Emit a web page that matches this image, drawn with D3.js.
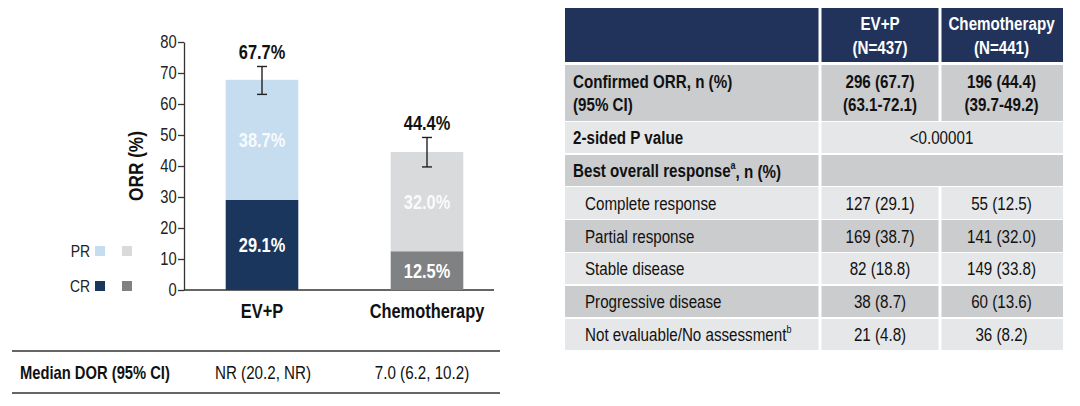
<!DOCTYPE html>
<html>
<head>
<meta charset="utf-8">
<script src="https://cdn.jsdelivr.net/npm/d3@7"></script>
<style>
  body { margin: 0; background: #fff; }
  svg { display: block; }
  text { font-family: "Liberation Sans", Arial, sans-serif; }
</style>
</head>
<body>
<div id="chart-area"></div>
<script>
// ---- data ----
const groups = ["EV+P", "Chemotherapy"];
const crValues = [29.1, 12.5];
const prValues = [38.7, 32.0];
const orrValues = [67.7, 44.4];
const ciLow = [63.1, 39.7];
const ciHigh = [72.1, 49.2];
const yTicks = [0, 10, 20, 30, 40, 50, 60, 70, 80];
const legendLabels = ["PR", "CR"];
const dorLabel = "Median DOR (95% CI)";
const dorValues = ["NR (20.2, NR)", "7.0 (6.2, 10.2)"];

const tableHeader = [["EV+P", "(N=437)"], ["Chemotherapy", "(N=441)"]];
const rowLabels = ["Confirmed ORR, n (%)|(95% CI)", "2-sided P value", "Best overall response", "Complete response",
  "Partial response", "Stable disease", "Progressive disease", "Not evaluable/No assessment"];
const evpCol = ["296 (67.7)|(63.1-72.1)", "<0.00001", "", "127 (29.1)", "169 (38.7)", "82 (18.8)", "38 (8.7)", "21 (4.8)"];
const chemoCol = ["196 (44.4)|(39.7-49.2)", "", "", "55 (12.5)", "141 (32.0)", "149 (33.8)", "60 (13.6)", "36 (8.2)"];

const width = 1080, height = 406;
const crColors = ["#1b365d", "#808182"];
const prColors = ["#c6dcef", "#d8dadb"];
const K = 0.82; // horizontal squeeze, the slide uses a narrow font

const svg = d3.select("#chart-area").append("svg")
  .attr("width", width).attr("height", height);

// squeeze text horizontally around its anchor point
function narrow(sel) {
  sel.each(function() {
    const t = d3.select(this);
    const tx = +t.attr("x") || 0, ty = +t.attr("y") || 0;
    t.attr("x", 0).attr("y", 0)
      .attr("transform", `translate(${tx},${ty}) scale(${K},1)`);
  });
}

// ---- bar chart ----
const x = d3.scaleBand().domain(groups).range([179.5, 509.5])
  .paddingInner(0.56).paddingOuter(0.28);
const y = d3.scaleLinear().domain([0, 80]).range([290, 42]);
const axisX = 184;

svg.append("g")
  .attr("transform", `translate(${axisX},0)`)
  .call(d3.axisLeft(y).tickValues(yTicks).tickSize(6).tickSizeOuter(0).tickPadding(3))
  .call(g => g.selectAll("line, path").attr("stroke", "#333").attr("stroke-width", 1.3))
  .call(g => g.selectAll("text").attr("font-size", 18).attr("fill", "#222")
    .style("font-family", "'Liberation Sans', Arial, sans-serif")
    .attr("transform", `scale(${K},1)`));

svg.append("line")
  .attr("x1", axisX).attr("x2", 494).attr("y1", y(0)).attr("y2", y(0))
  .attr("stroke", "#333").attr("stroke-width", 1.3);

svg.append("text")
  .attr("transform", `translate(143,${y(40)}) rotate(-90) scale(${K},1)`)
  .attr("text-anchor", "middle").attr("font-size", 21).attr("font-weight", "bold")
  .attr("fill", "#111").text("ORR (%)");

const bars = svg.append("g").selectAll("g").data(groups).join("g");

bars.append("rect")
  .attr("x", d => x(d)).attr("width", x.bandwidth())
  .attr("y", (d, i) => y(crValues[i])).attr("height", (d, i) => y(0) - y(crValues[i]))
  .attr("fill", (d, i) => crColors[i]);

bars.append("rect")
  .attr("x", d => x(d)).attr("width", x.bandwidth())
  .attr("y", (d, i) => y(crValues[i] + prValues[i]))
  .attr("height", (d, i) => y(crValues[i]) - y(crValues[i] + prValues[i]))
  .attr("fill", (d, i) => prColors[i]);

const cx = d => x(d) + x.bandwidth() / 2;

// segment labels
bars.append("text")
  .attr("x", cx)
  .attr("y", (d, i) => (y(0) + y(crValues[i])) / 2)
  .attr("dy", "0.36em").attr("text-anchor", "middle")
  .attr("font-size", 20).attr("font-weight", "bold").attr("fill", "#fff")
  .text((d, i) => crValues[i].toFixed(1) + "%")
  .call(narrow);

bars.append("text")
  .attr("x", cx)
  .attr("y", (d, i) => (y(crValues[i]) + y(crValues[i] + prValues[i])) / 2)
  .attr("dy", "0.36em").attr("text-anchor", "middle")
  .attr("font-size", 20).attr("font-weight", "bold").attr("fill", "#fff")
  .attr("fill-opacity", 0.9)
  .text((d, i) => prValues[i].toFixed(1) + "%")
  .call(narrow);

// error bars
bars.append("line")
  .attr("x1", cx).attr("x2", cx)
  .attr("y1", (d, i) => y(ciLow[i])).attr("y2", (d, i) => y(ciHigh[i]))
  .attr("stroke", "#222").attr("stroke-width", 1.4);
[ciLow, ciHigh].forEach(arr => {
  bars.append("line")
    .attr("x1", d => cx(d) - 5).attr("x2", d => cx(d) + 5)
    .attr("y1", (d, i) => y(arr[i])).attr("y2", (d, i) => y(arr[i]))
    .attr("stroke", "#222").attr("stroke-width", 1.4);
});

// totals
bars.append("text")
  .attr("x", cx).attr("y", (d, i) => y(ciHigh[i]) - 7)
  .attr("text-anchor", "middle").attr("font-size", 20).attr("font-weight", "bold")
  .attr("fill", "#111").text((d, i) => orrValues[i].toFixed(1) + "%")
  .call(narrow);

// category labels
svg.append("g").selectAll("text").data(groups).join("text")
  .attr("x", cx).attr("y", 318)
  .attr("text-anchor", "middle").attr("font-size", 20).attr("font-weight", "bold")
  .attr("fill", "#111").text(d => d)
  .call(narrow);

// legend
const legend = svg.append("g").selectAll("g").data(legendLabels).join("g")
  .attr("transform", (d, i) => `translate(0,${[251, 286][i]})`);
legend.append("text")
  .attr("x", 90).attr("y", 6).attr("text-anchor", "end")
  .attr("font-size", 17).attr("fill", "#222").text(d => d)
  .call(narrow);
legend.each(function(d) {
  const cols = d === "PR" ? prColors : crColors;
  d3.select(this).selectAll("rect").data(cols).join("rect")
    .attr("x", (c, j) => 95 + j * 27).attr("y", -5).attr("width", 10).attr("height", 10)
    .attr("fill", c => c);
});

// DOR row
svg.append("line").attr("x1", 12).attr("x2", 500).attr("y1", 351).attr("y2", 351)
  .attr("stroke", "#333").attr("stroke-width", 1.5);
svg.append("line").attr("x1", 12).attr("x2", 500).attr("y1", 393).attr("y2", 393)
  .attr("stroke", "#333").attr("stroke-width", 1.5);
svg.append("text").attr("x", 20).attr("y", 379)
  .attr("font-size", 18).attr("font-weight", "bold").attr("fill", "#111").text(dorLabel)
  .call(narrow);
svg.append("g").selectAll("text").data(dorValues).join("text")
  .attr("x", (d, i) => [263, 422][i]).attr("y", 379)
  .attr("text-anchor", "middle").attr("font-size", 18.5).attr("fill", "#111").text(d => d)
  .call(narrow);

// ---- right table ----
const colEdges = [565, 820, 940, 1063];
const rowTops = [8, 65, 122, 155, 187, 220, 253, 286, 319];
const rowBottoms = [62, 121, 153, 186, 219, 252, 284, 317, 350];
const navy = "#22335b", dark = "#cbcccd", light = "#e6e7e8";
const rowFill = [dark, light, dark, light, dark, light, dark, light];
const FS = 18.5;
const tbl = svg.append("g");

function cell(c0, c1, r, fill) {
  const top = r < 0 ? rowTops[0] : rowTops[r + 1];
  const bot = r < 0 ? rowBottoms[0] : rowBottoms[r + 1];
  tbl.append("rect")
    .attr("x", colEdges[c0] + (c0 ? 1.5 : 0)).attr("y", top)
    .attr("width", colEdges[c1] - colEdges[c0] - (c0 ? 1.5 : 0) - (c1 < 3 ? 1.5 : 0))
    .attr("height", bot - top).attr("fill", fill);
  return [top, bot];
}

function multiText(str, xPos, top, bot, anchor, bold, fill, lh) {
  const lines = str.split("|");
  const mid = (top + bot) / 2;
  lines.forEach((ln, k) => {
    tbl.append("text")
      .attr("x", xPos).attr("y", mid + (k - (lines.length - 1) / 2) * lh + FS * 0.36)
      .attr("text-anchor", anchor)
      .attr("font-size", FS).attr("font-weight", bold ? "bold" : "normal")
      .attr("fill", fill).text(ln)
      .call(narrow);
  });
}

// header
cell(0, 1, -1, navy);
tableHeader.forEach((h, j) => {
  const [t, b] = cell(j + 1, j + 2, -1, navy);
  multiText(h.join("|"), (colEdges[j + 1] + colEdges[j + 2]) / 2, t, b, "middle", true, "#fff", 24);
});

rowLabels.forEach((lab, r) => {
  const fill = rowFill[r];
  const [t, b] = cell(0, 1, r, fill);
  const bold = r < 3;
  const txt = bold ? 573 : 585;
  if (lab === "Best overall response" || lab === "Not evaluable/No assessment") {
    const sup = lab === "Best overall response" ? "a" : "b";
    const el = tbl.append("text").attr("x", txt).attr("y", (t + b) / 2 + FS * 0.36)
      .attr("font-size", FS).attr("font-weight", bold ? "bold" : "normal").attr("fill", "#111");
    el.append("tspan").text(lab);
    el.append("tspan").attr("font-size", 11).attr("dy", "-0.75em").text(sup);
    if (bold) el.append("tspan").attr("dy", "0.5em").text(", n (%)");
    el.call(narrow);
  } else {
    multiText(lab, txt, t, b, "start", bold, "#111", 23);
  }
  if (evpCol[r] !== "" && chemoCol[r] === "") {
    cell(1, 3, r, fill);
    multiText(evpCol[r], (colEdges[1] + colEdges[3]) / 2, t, b, "middle", false, "#111", 23);
  } else if (evpCol[r] === "" && chemoCol[r] === "") {
    cell(1, 3, r, fill);
  } else {
    cell(1, 2, r, fill);
    cell(2, 3, r, fill);
    multiText(evpCol[r], (colEdges[1] + colEdges[2]) / 2, t, b, "middle", bold, "#111", 23);
    multiText(chemoCol[r], (colEdges[2] + colEdges[3]) / 2, t, b, "middle", bold, "#111", 23);
  }
});
</script>
</body>
</html>
